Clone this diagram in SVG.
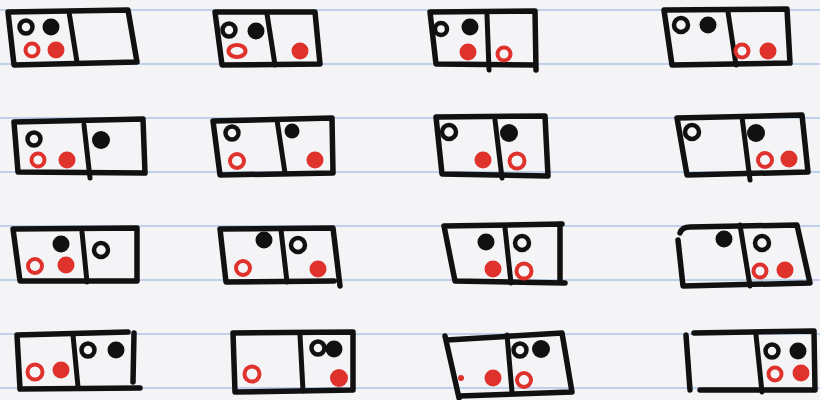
<svg xmlns="http://www.w3.org/2000/svg" width="820" height="400" viewBox="0 0 820 400">
<style>
.paper{fill:#f4f4f6}
.rule{stroke:#aec6e6;stroke-width:1.6}
.box{fill:none;stroke:#111;stroke-width:5.5;stroke-linejoin:round;stroke-linecap:round}
.div{stroke:#111;stroke-width:5;stroke-linecap:round}
.bo{fill:none;stroke:#111;stroke-width:4.5}
.bf{fill:#111}
.ro{fill:none;stroke:#e0322c;stroke-width:4}
.rf{fill:#e0322c}
</style>
<rect class="paper" x="0" y="0" width="820" height="400"/>
<g id="rules">
<line class="rule" x1="0" y1="10" x2="820" y2="10"/>
<line class="rule" x1="0" y1="64" x2="820" y2="64"/>
<line class="rule" x1="0" y1="118" x2="820" y2="118"/>
<line class="rule" x1="0" y1="172" x2="820" y2="172"/>
<line class="rule" x1="0" y1="226" x2="820" y2="226"/>
<line class="rule" x1="0" y1="280" x2="820" y2="280"/>
<line class="rule" x1="0" y1="334" x2="820" y2="334"/>
<line class="rule" x1="0" y1="388" x2="820" y2="388"/>
</g>
<g id="boxA">
<path class="box" d="M8,12 L128,10 L137,62 L14,65 Z"/>
<line class="div" x1="69" y1="12" x2="77" y2="62"/>
<circle class="bo" cx="26" cy="27" r="6.5"/><circle class="bf" cx="51" cy="27" r="8.5"/>
<circle class="ro" cx="32" cy="50" r="6.5"/><circle class="rf" cx="56" cy="50" r="8.5"/>
</g>
<g id="boxB">
<path class="box" d="M215,12 L315,12 L320,64 L222,65 Z"/>
<line class="div" x1="267" y1="14" x2="275" y2="65"/>
<circle class="bo" cx="229" cy="30" r="6.5"/><circle class="bf" cx="256" cy="31" r="8.5"/>
<ellipse class="ro" cx="237" cy="51" rx="8.5" ry="6"/><circle class="rf" cx="300" cy="51" r="8.5"/>
</g>
<g id="boxC">
<path class="box" d="M430,12 L535,11 L536,70 M536,65 L436,64 L430,12"/>
<line class="div" x1="487" y1="15" x2="489" y2="70"/>
<circle class="bo" cx="441" cy="29" r="6"/><circle class="bf" cx="470" cy="27" r="8.5"/>
<circle class="rf" cx="468" cy="52" r="8.5"/><circle class="ro" cx="504" cy="54" r="6.5"/>
</g>
<g id="boxD">
<path class="box" d="M664,10 L787,9 L790,63 L672,65 Z"/>
<line class="div" x1="728" y1="12" x2="736" y2="65"/>
<circle class="bo" cx="681" cy="25" r="7"/><circle class="bf" cx="708" cy="25" r="8.5"/>
<circle class="ro" cx="742" cy="51" r="6.5"/><circle class="rf" cx="768" cy="51" r="8.5"/>
</g>
<g id="boxE">
<path class="box" d="M14,122 L143,119 L145,173 L18,172 Z"/>
<line class="div" x1="84" y1="125" x2="90" y2="178"/>
<circle class="bo" cx="34" cy="139" r="6.5"/><circle class="ro" cx="38" cy="160" r="6.5"/>
<circle class="rf" cx="67" cy="160" r="8.5"/><circle class="bf" cx="101" cy="140" r="9"/>
</g>
<g id="boxF">
<path class="box" d="M213,121 L332,118 L333,173 L220,175 Z"/>
<line class="div" x1="277" y1="120" x2="285" y2="173"/>
<circle class="bo" cx="232" cy="133" r="6.5"/><circle class="ro" cx="237" cy="161" r="7"/>
<circle class="bf" cx="292" cy="131" r="7.5"/><circle class="rf" cx="315" cy="160" r="8.5"/>
</g>
<g id="boxG">
<path class="box" d="M436,117 L545,116 L548,176 L442,174 Z"/>
<line class="div" x1="495" y1="120" x2="502" y2="178"/>
<circle class="bo" cx="449" cy="132" r="7"/><circle class="bf" cx="509" cy="133" r="9"/>
<circle class="rf" cx="483" cy="160" r="8.5"/><circle class="ro" cx="517" cy="161" r="7.5"/>
</g>
<g id="boxH">
<path class="box" d="M677,118 L802,115 L808,172 L687,175 Z"/>
<line class="div" x1="742" y1="117" x2="750" y2="180"/>
<circle class="bo" cx="692" cy="132" r="7"/><circle class="bf" cx="756" cy="133" r="9"/>
<circle class="ro" cx="765" cy="160" r="7"/><circle class="rf" cx="789" cy="159" r="8.5"/>
</g>
<g id="boxI">
<path class="box" d="M13,229 L137,228 L137,281 L20,281 Z"/>
<line class="div" x1="82" y1="232" x2="87" y2="282"/>
<circle class="bf" cx="61" cy="244" r="8.5"/><circle class="bo" cx="101" cy="250" r="7"/>
<circle class="ro" cx="35" cy="266" r="7"/><circle class="rf" cx="66" cy="265" r="8.5"/>
</g>
<g id="boxJ">
<path class="box" d="M220,229 L333,228 L340,286 M334,281 L226,282 L220,229"/>
<line class="div" x1="281" y1="230" x2="287" y2="282"/>
<circle class="bf" cx="264" cy="240" r="8.5"/><circle class="bo" cx="298" cy="245" r="7"/>
<circle class="ro" cx="243" cy="268" r="7"/><circle class="rf" cx="318" cy="269" r="8.5"/>
</g>
<g id="boxK">
<path class="box" d="M444,226 L562,224 M560,224 L560,283 M565,283 L455,281 L444,226"/>
<line class="div" x1="505" y1="228" x2="511" y2="283"/>
<circle class="bf" cx="486" cy="242" r="8.5"/><circle class="bo" cx="522" cy="243" r="7"/>
<circle class="rf" cx="493" cy="269" r="8.5"/><circle class="ro" cx="524" cy="271" r="7.5"/>
</g>
<g id="boxL">
<path class="box" d="M680,233 Q682,227 690,227 L797,225 L810,283 L683,286 L678,240"/>
<line class="div" x1="740" y1="225" x2="750" y2="286"/>
<circle class="bf" cx="724" cy="239" r="8.5"/><circle class="bo" cx="762" cy="243" r="7"/>
<circle class="ro" cx="760" cy="271" r="6.5"/><circle class="rf" cx="785" cy="270" r="8.5"/>
</g>
<g id="boxM">
<path class="box" d="M17,335 L128,332 M134,333 L133,382 M140,388 L20,389 L17,335"/>
<line class="div" x1="73" y1="335" x2="78" y2="387"/>
<circle class="ro" cx="35" cy="372" r="7.5"/><circle class="rf" cx="61" cy="370" r="8.5"/>
<circle class="bo" cx="88" cy="350" r="6.5"/><circle class="bf" cx="116" cy="350" r="8.5"/>
</g>
<g id="boxN">
<path class="box" d="M233,333 L353,332 L353,390 L235,392 Z"/>
<line class="div" x1="300" y1="335" x2="303" y2="391"/>
<circle class="bo" cx="318" cy="348" r="6.5"/><circle class="bf" cx="334" cy="349" r="8.5"/>
<circle class="ro" cx="252" cy="374" r="7.5"/><circle class="rf" cx="339" cy="378" r="9"/>
</g>
<g id="boxO">
<path class="box" d="M447,340 L562,333 L572,392 L460,396 M445,336 L459,398"/>
<line class="div" x1="507" y1="335" x2="512" y2="392"/>
<circle class="rf" cx="461" cy="378" r="3"/><circle class="rf" cx="493" cy="378" r="8.5"/>
<circle class="bo" cx="520" cy="350" r="6.5"/><circle class="bf" cx="541" cy="349" r="9"/>
<circle class="ro" cx="524" cy="380" r="7"/>
</g>
<g id="boxP">
<path class="box" d="M694,333 L814,331 L815,390 L700,390 M686,335 L690,390"/>
<line class="div" x1="756" y1="335" x2="762" y2="392"/>
<circle class="bo" cx="772" cy="351" r="6.5"/><circle class="bf" cx="798" cy="351" r="8.5"/>
<circle class="ro" cx="775" cy="374" r="6.5"/><circle class="rf" cx="801" cy="373" r="8.5"/>
</g>
</svg>
